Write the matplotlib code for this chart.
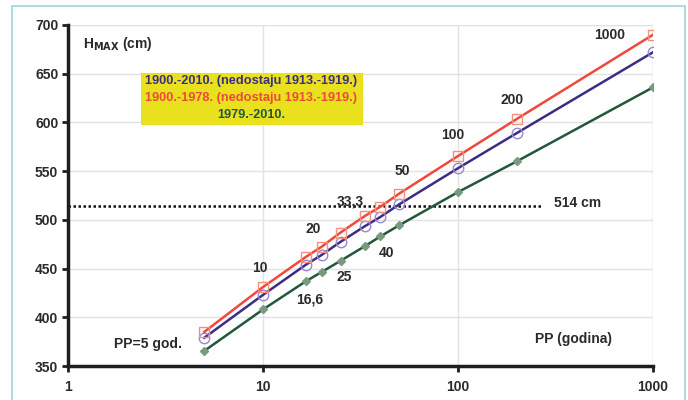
import matplotlib
matplotlib.use("Agg")
import matplotlib.pyplot as plt
from matplotlib.patches import Rectangle

plt.rcParams['font.family'] = ['Liberation Sans', 'DejaVu Sans']

# povratni periodi (godina)
pp = [5, 10, 16.6, 20, 25, 33.3, 40, 50, 100, 200, 1000]

# Hmax (cm) za pojedina razdoblja
h_1900_2010 = [379, 423, 454, 464, 477.5, 493.5, 503, 516, 553, 589, 672]
h_1900_1978 = [385, 431, 462, 472.5, 487, 504, 513.5, 527, 565.5, 603.5, 690]
h_1979_2010 = [365.5, 408, 437, 446.5, 458, 473, 483, 494.5, 528.5, 560, 636]

granica = 514  # cm

x_ticks = [1, 10, 100, 1000]
x_tick_labels = ["1", "10", "100", "1000"]
y_ticks = [350, 400, 450, 500, 550, 600, 650, 700]

# oznake povratnih perioda uz krivulje
oznake = [
    ("1000", 602, 689.5), ("200", 189, 623), ("100", 94, 587), ("50", 51.6, 550),
    ("33,3", 27.9, 518.6), ("20", 18.0, 490.5), ("10", 9.66, 450.5),
    ("16,6", 17.4, 418.7), ("25", 26.0, 441), ("40", 43.2, 466),
]

crvena = "#f0483a"
plava = "#3b2d86"
zelena = "#22583a"
tekst = "#2a2a2a"
fs = 10

fig = plt.figure(figsize=(6.88, 4.00), dpi=100)
fig.patch.set_facecolor("white")
# okvir oko grafa
fig.patches.append(Rectangle((12 / 688, -0.05), (685 - 12) / 688, 1.05 - 6 / 400,
                             transform=fig.transFigure, facecolor="none",
                             edgecolor="#9fd3df", linewidth=1.2))

ax = fig.add_axes([68 / 688, 34 / 400, (653 - 68) / 688, (366 - 25) / 400])
ax.set_xscale("log")
ax.set_xlim(1, 1000)
ax.set_ylim(350, 700)

ax.grid(True, which="major", color="#e2e2e2", linewidth=1.0)
ax.set_axisbelow(True)
for s in ["top", "right"]:
    ax.spines[s].set_visible(False)
for s in ["left", "bottom"]:
    ax.spines[s].set_color("#1e1e1e")
    ax.spines[s].set_linewidth(2.5)
ax.axhline(700, color="#e2e2e2", linewidth=1.0, zorder=0)
ax.axvline(1000, color="#e2e2e2", linewidth=1.0, zorder=0)

ax.set_xticks(x_ticks)
ax.set_xticklabels(x_tick_labels)
ax.minorticks_off()
ax.set_yticks(y_ticks)
ax.tick_params(axis="both", direction="out", length=4, width=2, color="#1e1e1e",
               labelsize=fs, labelcolor=tekst)
ax.tick_params(axis="y", pad=3)
ax.tick_params(axis="x", pad=6)
for lab in ax.get_xticklabels() + ax.get_yticklabels():
    lab.set_fontweight("bold")

# granična razina
ax.plot([1, 268], [granica, granica], color="#111111", linewidth=1.8,
        linestyle=(0, (1, 1)), zorder=2)
ax.text(408, granica + 3, f"{granica} cm", ha="center", va="center", fontsize=fs,
        fontweight="bold", color=tekst)

ax.plot(pp, h_1979_2010, color=zelena, linewidth=1.8, marker="D", markersize=4.5,
        markerfacecolor="#7a9a80", markeredgecolor="#7a9a80", zorder=3)
ax.plot(pp, h_1900_2010, color=plava, linewidth=1.8, marker="o", markersize=7.5,
        markerfacecolor="none", markeredgecolor="#9888cc", markeredgewidth=1.0, zorder=4)
ax.plot(pp, h_1900_1978, color=crvena, linewidth=1.8, marker="s", markersize=7.5,
        markerfacecolor="none", markeredgecolor="#f5907f", markeredgewidth=1.0, zorder=5)

for txt, x, y in oznake:
    ax.text(x, y, txt, ha="center", va="center", fontsize=fs, fontweight="bold",
            color=tekst, zorder=6)

ax.text(1.2, 680.5, r"H$_{\mathbf{MAX}}$ (cm)", ha="left", va="center", fontsize=fs,
        fontweight="bold", color=tekst)
ax.text(389, 377.6, "PP (godina)", ha="center", va="center", fontsize=fs,
        fontweight="bold", color=tekst)
ax.text(2.57, 372.5, "PP=5 god.", ha="center", va="center", fontsize=fs,
        fontweight="bold", color=tekst)

# legenda na žutoj podlozi
fig.patches.append(Rectangle((141 / 688, 1 - 125 / 400), (363 - 141) / 688, (125 - 73) / 400,
                             transform=fig.transFigure, facecolor="#e9e11e",
                             edgecolor="none", zorder=1))
legenda = [
    ("1900.-2010. (nedostaju 1913.-1919.)", plava, 81),
    ("1900.-1978. (nedostaju 1913.-1919.)", crvena, 98),
    ("1979.-2010.", zelena, 115),
]
for txt, c, py in legenda:
    fig.text(251 / 688, 1 - py / 400, txt, ha="center", va="center", fontsize=9.2,
             fontweight="bold", color=c, zorder=2)

fig.savefig("out.png", dpi=100)
